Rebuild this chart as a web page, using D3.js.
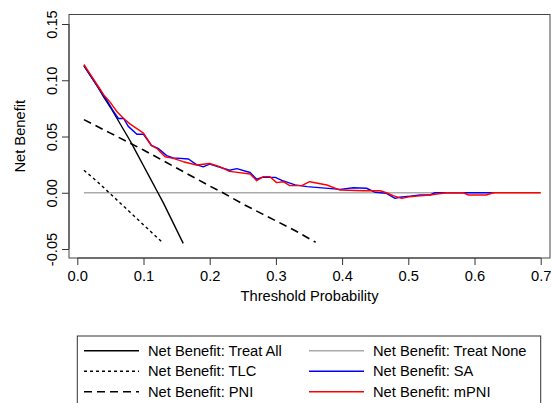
<!DOCTYPE html>
<html>
<head>
<meta charset="utf-8">
<script src="https://cdn.jsdelivr.net/npm/d3@7"></script>
<style>
  body { margin: 0; background: #fff; }
  text { font-family: "Liberation Sans", Arial, sans-serif; fill: #000; }
</style>
</head>
<body>
<svg width="551" height="403"></svg>
<script>
// Data: [threshold, net benefit]
const treatAll = [[0.01,0.113],[0.02,0.104],[0.03,0.095],[0.04,0.085],[0.05,0.076],[0.06,0.066],[0.07,0.056],[0.08,0.046],
  [0.09,0.035],[0.10,0.024],[0.11,0.013],[0.12,0.002],[0.13,-0.009],[0.14,-0.021],[0.15,-0.033],[0.16,-0.045]];
const treatNone = [[0.01,0],[0.70,0]];
const tlc = [[0.01,0.020],[0.03,0.010],[0.05,-0.001],[0.07,-0.012],[0.09,-0.023],[0.11,-0.034],[0.13,-0.045]];
const pni = [[0.01,0.065],[0.05,0.053],[0.10,0.038],[0.15,0.022],[0.20,0.006],[0.22,0.000],[0.25,-0.010],
  [0.28,-0.019],[0.30,-0.025],[0.33,-0.034],[0.36,-0.044]];
const sa = [[0.01,0.113],[0.02,0.104],[0.03,0.095],[0.04,0.086],[0.045,0.082],[0.055,0.072],[0.062,0.066],[0.07,0.066],
  [0.077,0.059],[0.09,0.052],[0.10,0.052],[0.112,0.042],[0.122,0.0395],[0.135,0.033],[0.145,0.031],[0.168,0.030],
  [0.18,0.025],[0.19,0.023],[0.20,0.0255],[0.23,0.020],[0.241,0.0215],[0.261,0.018],[0.271,0.012],[0.279,0.0137],
  [0.299,0.0137],[0.309,0.011],[0.329,0.007],[0.347,0.0054],[0.397,0.003],[0.417,0.0045],[0.437,0.004],[0.45,0.0004],
  [0.467,-0.0005],[0.48,-0.005],[0.487,-0.004],[0.503,-0.003],[0.518,-0.002],[0.533,-0.002],[0.54,0.0],[0.63,0.0]];
const mpni = [[0.01,0.114],[0.02,0.105],[0.03,0.096],[0.04,0.087],[0.049,0.081],[0.06,0.072],[0.07,0.066],[0.08,0.061],
  [0.09,0.057],[0.10,0.053],[0.112,0.042],[0.12,0.0395],[0.1325,0.032],[0.145,0.0305],[0.16,0.0276],[0.18,0.0247],
  [0.20,0.026],[0.215,0.0232],[0.23,0.019],[0.261,0.0167],[0.271,0.0107],[0.281,0.0143],[0.291,0.0143],[0.301,0.009],
  [0.311,0.0098],[0.321,0.0063],[0.339,0.0063],[0.351,0.0098],[0.377,0.0069],[0.397,0.0024],[0.432,0.0018],
  [0.457,0.0018],[0.467,0],[0.477,-0.0026],[0.49,-0.005],[0.503,-0.0035],[0.513,-0.003],[0.533,-0.002],[0.543,-0.0011],
  [0.558,0],[0.583,0],[0.591,-0.002],[0.618,-0.002],[0.628,0],[0.70,0]];

const xTicks = [0, 0.1, 0.2, 0.3, 0.4, 0.5, 0.6, 0.7];
const yTicks = [-0.05, 0, 0.05, 0.10, 0.15];
const legendLabels = ["Net Benefit: Treat All", "Net Benefit: TLC", "Net Benefit: PNI",
  "Net Benefit: Treat None", "Net Benefit: SA", "Net Benefit: mPNI"];

const svg = d3.select("svg");

// plot box edges (pixels)
const box = { left: 69, right: 550, top: 14.5, bottom: 258 };

const x = d3.scaleLinear().domain([0, 0.7]).range([77.3, 540.7]);
const y = d3.scaleLinear().domain([-0.05, 0.15]).range([249, 24]);

// styles per series
const series = [
  { data: treatAll, color: "#000", dash: null, width: 1.4 },
  { data: tlc, color: "#000", dash: "3,3", width: 1.4 },
  { data: pni, color: "#000", dash: "8,5", width: 1.6 },
  { data: treatNone, color: "#aaa", dash: null, width: 1.4 },
  { data: sa, color: "#0000ff", dash: null, width: 1.4 },
  { data: mpni, color: "#ff0000", dash: null, width: 1.4 }
];

// plain hyphen for negatives, like the original
const yFmt = d => d3.format(".2f")(d).replace("\u2212", "-");

// axes
const xAxis = svg.append("g")
  .attr("transform", `translate(0,${box.bottom})`)
  .call(d3.axisBottom(x).tickValues(xTicks).tickFormat(d3.format(".1f")).tickSize(7).tickSizeOuter(0));
xAxis.selectAll("text").attr("dy", null).attr("y", 23).style("font-size", "14.7px");

const yAxis = svg.append("g")
  .attr("transform", `translate(${box.left},0)`)
  .call(d3.axisLeft(y).tickValues(yTicks).tickFormat(yFmt).tickSize(7).tickSizeOuter(0));
yAxis.selectAll("text")
  .attr("x", null).attr("dy", null)
  .attr("transform", d => `translate(-12,0) rotate(-90)`)
  .attr("text-anchor", "middle")
  .style("font-size", "14.7px");

svg.selectAll(".domain, .tick line").attr("stroke", "#333");
xAxis.select(".domain").remove();
yAxis.select(".domain").remove();
svg.append("line").attr("x1", x(0)).attr("x2", x(0.7)).attr("y1", box.bottom).attr("y2", box.bottom).attr("stroke", "#333");
svg.append("line").attr("y1", y(-0.05)).attr("y2", y(0.15)).attr("x1", box.left).attr("x2", box.left).attr("stroke", "#333");

svg.append("rect")
  .attr("x", box.left).attr("y", box.top)
  .attr("width", box.right - box.left).attr("height", box.bottom - box.top)
  .attr("fill", "none").attr("stroke", "#444");

// axis titles
svg.append("text")
  .attr("x", (box.left + box.right) / 2).attr("y", 301)
  .attr("text-anchor", "middle").style("font-size", "14.7px")
  .text("Threshold Probability");
svg.append("text")
  .attr("transform", `translate(25,${(box.top + box.bottom) / 2}) rotate(-90)`)
  .attr("text-anchor", "middle").style("font-size", "14.7px")
  .text("Net Benefit");

// curves
const line = d3.line().x(d => x(d[0])).y(d => y(d[1]));
const drawOrder = [3, 0, 1, 2, 4, 5];
drawOrder.forEach(i => {
  const s = series[i];
  svg.append("path")
    .attr("d", line(s.data))
    .attr("fill", "none")
    .attr("stroke", s.color)
    .attr("stroke-width", s.width)
    .attr("stroke-dasharray", s.dash)
    .attr("stroke-linejoin", "round");
});

// legend
svg.append("rect")
  .attr("x", 77.3).attr("y", 336)
  .attr("width", 463.4).attr("height", 80)
  .attr("fill", "#fff").attr("stroke", "#333");

legendLabels.forEach((lab, i) => {
  const col = Math.floor(i / 3), row = i % 3;
  const s = series[i];
  const cy = 350.7 + row * 20.5;
  const lx = col === 0 ? 84 : 309;
  svg.append("line")
    .attr("x1", lx).attr("x2", lx + 55)
    .attr("y1", cy).attr("y2", cy)
    .attr("stroke", s.color).attr("stroke-width", s.width)
    .attr("stroke-dasharray", s.dash);
  svg.append("text")
    .attr("x", lx + 64).attr("y", cy + 5.2)
    .style("font-size", "14.7px")
    .text(lab);
});
</script>
</body>
</html>
